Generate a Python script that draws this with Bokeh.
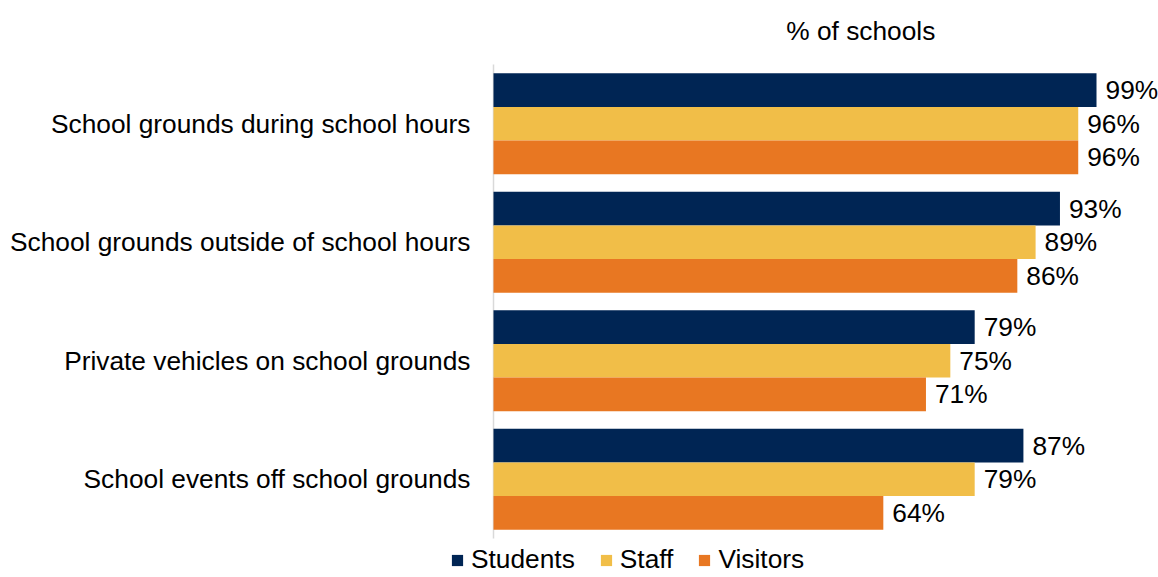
from bokeh.plotting import figure
from bokeh.models import Range1d, Legend, LegendItem, Label, ColumnDataSource
from bokeh.core.properties import value
from bokeh.embed import file_html
from bokeh.resources import INLINE

categories = [
    "School grounds during school hours",
    "School grounds outside of school hours",
    "Private vehicles on school grounds",
    "School events off school grounds",
]
series_names = ["Students", "Staff", "Visitors"]
students = [99, 93, 79, 87]
staff = [96, 89, 75, 79]
visitors = [96, 86, 71, 64]
axis_title = "% of schools"

colors = ["#002554", "#F1BE48", "#E87722"]
FONT = "Liberation Sans"
FS = "26.3px"

W, H = 1158, 577
AXIS_X = 493          # pixel where the value axis starts
PX_PER_PCT = 6.091
PX_PER_GROUP = 118.5
TOP_PAD = 64

n = len(categories)
ypos = [n - 1 - i for i in range(n)]  # first category on top
bh = 0.2844
offsets = [bh, 0.0, -bh]
series_vals = [students, staff, visitors]

y_top = n - 0.5 + TOP_PAD / PX_PER_GROUP
y_bot = y_top - H / PX_PER_GROUP

p = figure(
    frame_width=W, frame_height=H,
    x_range=Range1d(-AXIS_X / PX_PER_PCT, (W - AXIS_X) / PX_PER_PCT),
    y_range=Range1d(y_bot, y_top),
    output_backend="svg", toolbar_location=None,
    min_border=0,
)
p.title = None
p.axis.visible = False
p.grid.grid_line_color = None
p.outline_line_color = None

# value axis line, spanning the category groups
p.segment(x0=[0], x1=[0], y0=[-0.5], y1=[n - 0.5], line_color="#d9d9d9", line_width=1.5)

# category labels
p.text(x=[0] * n, y=ypos, text=categories, x_offset=-23,
       text_align="right", text_baseline="middle",
       text_font=value(FONT), text_font_size=FS, text_color="#000000")

items = []
for name, col, off, vals in zip(series_names, colors, offsets, series_vals):
    src = ColumnDataSource(dict(
        y=[y + off for y in ypos], v=vals, lbl=[f"{v}%" for v in vals]))
    r = p.hbar(y="y", right="v", left=0, height=bh, source=src,
               fill_color=col, line_color=None)
    p.text(x="v", y="y", text="lbl", source=src,
           x_offset=9, text_baseline="middle", text_align="left",
           text_font=value(FONT), text_font_size=FS, text_color="#000000")
    items.append(LegendItem(label=name, renderers=[r]))

# heading "% of schools"
p.add_layout(Label(x=60.3, y=y_top - 30 / PX_PER_GROUP, text=axis_title,
                   text_align="center", text_baseline="middle",
                   text_font=FONT, text_font_size=FS, text_color="#000000"))

legend = Legend(items=items, orientation="horizontal", location=(450, 2),
                label_text_font=FONT, label_text_font_size=FS, label_text_color="#000000",
                glyph_width=14, glyph_height=14, label_standoff=7, spacing=24,
                padding=0, margin=0, border_line_color=None, background_fill_alpha=0,
                label_height=26)
p.add_layout(legend, "center")

open("out.html", "w").write(file_html(p, INLINE))
